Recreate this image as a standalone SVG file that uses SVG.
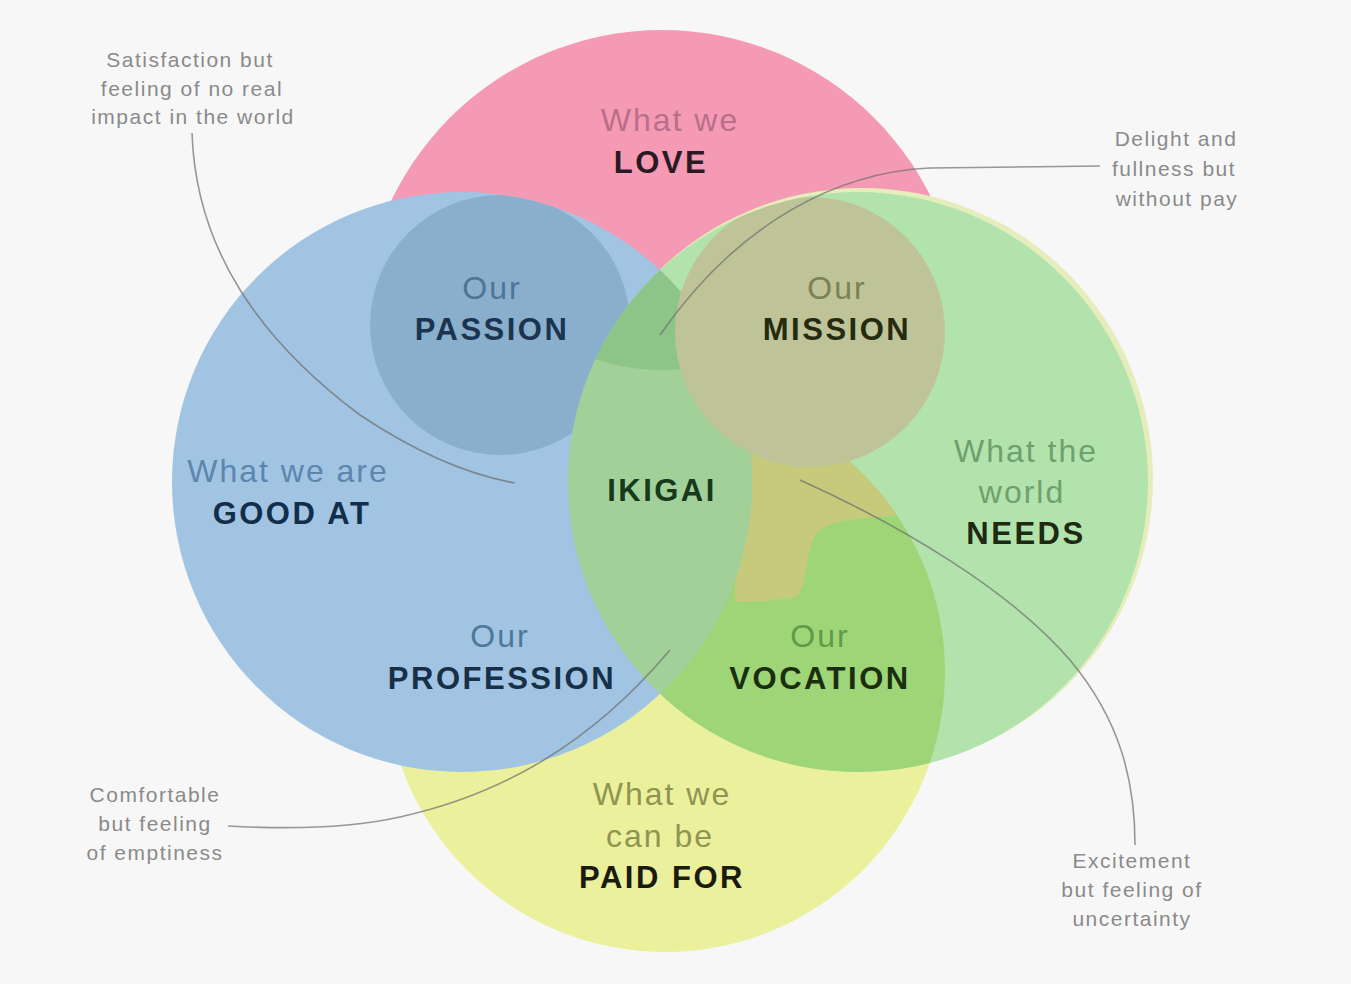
<svg xmlns="http://www.w3.org/2000/svg" width="1351" height="984" viewBox="0 0 1351 984">
<style>
.lt{font-family:"Liberation Sans",Arial,sans-serif;font-size:32px;letter-spacing:2px;text-anchor:middle}
.bd{font-family:"Liberation Sans",Arial,sans-serif;font-size:31px;font-weight:bold;letter-spacing:2.5px;text-anchor:middle}
.note{font-family:"Liberation Sans",Arial,sans-serif;font-size:21px;letter-spacing:1.5px;fill:#8a8a8a;text-anchor:middle}
.con{fill:none;stroke:#6e6e6e;stroke-opacity:.7;stroke-width:1.6}
</style>
<defs>
<clipPath id="cPink"><circle cx="662" cy="330" r="300"/></clipPath>
<clipPath id="cBlue"><circle cx="462" cy="482" r="290"/></clipPath>
<clipPath id="cGreen"><circle cx="858" cy="482" r="290"/></clipPath>
<clipPath id="cYellow"><circle cx="665" cy="672" r="280"/></clipPath>
</defs>
<rect width="1351" height="984" fill="#f7f7f7"/>

<g id="node-paid-for">
<circle cx="665" cy="672" r="280" fill="#ebf09c"/>
<text class="lt" x="662" y="805" fill="#8e9550">What we</text>
<text class="lt" x="660" y="847" fill="#8e9550">can be</text>
<text class="bd" x="662" y="888" fill="#1a1a10">PAID FOR</text>
</g>

<g id="node-love">
<circle cx="662" cy="330" r="300" fill="#f59ab4"/>
<text class="lt" x="670" y="131" fill="#b86f8a">What we</text>
<text class="bd" x="661" y="173" fill="#2b1a24">LOVE</text>
</g>

<g id="node-needs">
<circle cx="862" cy="479" r="291" fill="#e6edbd"/>
<circle cx="858" cy="482" r="290" fill="#b2e3ac"/>
</g>

<g id="node-vocation">
<g clip-path="url(#cGreen)"><circle cx="665" cy="672" r="280" fill="#9ed677"/></g>
</g>

<g id="region-band">
<g clip-path="url(#cGreen)"><g clip-path="url(#cYellow)"><path d="M735,395 L908,395 L908,514 C868,520 832,516 816,534 C804,552 810,584 796,597 Q770,602 735,602 Z" fill="#c6ca7a"/></g></g>
</g>

<g id="node-good-at">
<circle cx="462" cy="482" r="290" fill="#a0c4e2"/>
<text class="lt" x="288" y="482" fill="#5d86ae">What we are</text>
<text class="bd" x="292" y="524" fill="#132e4a">GOOD AT</text>
</g>

<g id="node-passion">
<g clip-path="url(#cPink)"><g clip-path="url(#cBlue)"><circle cx="500" cy="325" r="130" fill="#8aafcd"/></g></g>
</g>

<g id="node-ikigai">
<g clip-path="url(#cBlue)"><circle cx="858" cy="482" r="290" fill="#a1d198"/></g>
<g clip-path="url(#cBlue)"><g clip-path="url(#cGreen)"><circle cx="662" cy="160" r="210" fill="#8dc589"/></g></g>
</g>

<g id="node-mission">
<g clip-path="url(#cPink)"><g clip-path="url(#cGreen)"><circle cx="810" cy="332" r="135" fill="#bec498"/></g></g>
</g>

<g id="labels">
<text class="lt" x="492" y="299" fill="#4e7596">Our</text>
<text class="bd" x="492" y="340" fill="#1b3550">PASSION</text>
<text class="lt" x="837" y="299" fill="#7c8150">Our</text>
<text class="bd" x="837" y="340" fill="#262a0e">MISSION</text>
<text class="bd" x="662" y="501" fill="#173a1c">IKIGAI</text>
<text class="lt" x="1026" y="462" fill="#6fa06c">What the</text>
<text class="lt" x="1022" y="503" fill="#6fa06c">world</text>
<text class="bd" x="1026" y="544" fill="#1e2a12">NEEDS</text>
<text class="lt" x="500" y="647" fill="#4d7898">Our</text>
<text class="bd" x="502" y="689" fill="#173048">PROFESSION</text>
<text class="lt" x="820" y="647" fill="#5e9a47">Our</text>
<text class="bd" x="820" y="689" fill="#1c2e10">VOCATION</text>
</g>

<g id="connectors">
<path class="con" d="M192,133 C196,250 260,340 360,415 C420,455 470,475 515,483"/>
<path class="con" d="M1100,166 L930,168 C840,172 740,220 660,335"/>
<path class="con" d="M228,826 C300,830 360,826 400,817 C500,795 590,745 670,650"/>
<path class="con" d="M800,480 C900,525 1010,590 1070,660 C1120,720 1135,780 1135,845"/>
</g>

<g id="note-satisfaction">
<text class="note" x="190" y="67">Satisfaction but</text>
<text class="note" x="192" y="96">feeling of no real</text>
<text class="note" x="193" y="124">impact in the world</text>
</g>
<g id="note-delight">
<text class="note" x="1176" y="146">Delight and</text>
<text class="note" x="1174" y="176">fullness but</text>
<text class="note" x="1177" y="206">without pay</text>
</g>
<g id="note-comfortable">
<text class="note" x="155" y="802">Comfortable</text>
<text class="note" x="155" y="831">but feeling</text>
<text class="note" x="155" y="860">of emptiness</text>
</g>
<g id="note-excitement">
<text class="note" x="1132" y="868">Excitement</text>
<text class="note" x="1132" y="897">but feeling of</text>
<text class="note" x="1132" y="926">uncertainty</text>
</g>
</svg>
